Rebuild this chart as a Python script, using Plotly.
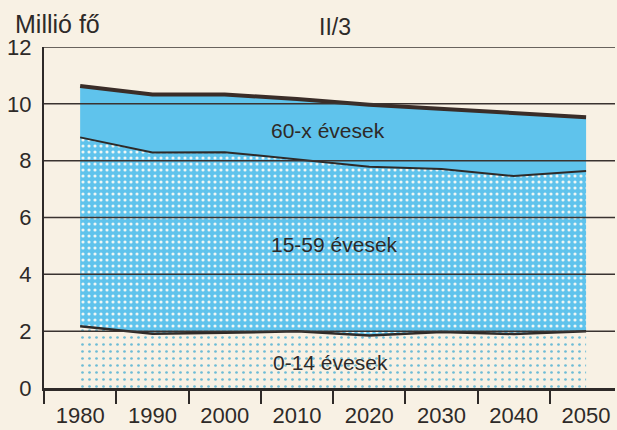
import plotly.graph_objects as go

# Population of Hungary by age group, million persons
years = [1980, 1990, 2000, 2010, 2020, 2030, 2040, 2050]
age_0_14 = [2.17, 1.91, 1.94, 2.00, 1.85, 1.97, 1.90, 2.00]
age_15_59 = [6.65, 6.38, 6.36, 6.05, 5.94, 5.74, 5.56, 5.64]
age_60_plus = [1.81, 2.04, 2.03, 2.12, 2.18, 2.12, 2.22, 1.89]

group_labels = ["0-14 évesek", "15-59 évesek", "60-x évesek"]
y_ticks = [0, 2, 4, 6, 8, 10, 12]
x_tick_marks = [1975, 1985, 1995, 2005, 2015, 2025, 2035, 2045]

BG = "#f8f1e4"
BLUE = "#5fc3ec"
INK = "#2e2a28"
FONT = "Liberation Sans"

fig = go.Figure()

fig.add_trace(go.Scatter(
    x=years, y=age_0_14, stackgroup="pop", name=group_labels[0],
    mode="lines", line=dict(color=INK, width=2.5),
    fillcolor=BG,
    fillpattern=dict(shape=".", bgcolor=BG, fgcolor="#6dbcd6",
                     size=7, solidity=0.12, fillmode="replace"),
))
fig.add_trace(go.Scatter(
    x=years, y=age_15_59, stackgroup="pop", name=group_labels[1],
    mode="lines", line=dict(color=INK, width=2),
    fillcolor=BLUE,
    fillpattern=dict(shape=".", bgcolor=BLUE, fgcolor="#eef6f4",
                     size=6, solidity=0.22, fillmode="replace"),
))
fig.add_trace(go.Scatter(
    x=years, y=age_60_plus, stackgroup="pop", name=group_labels[2],
    mode="lines", line=dict(color="#3a2d28", width=4),
    fillcolor=BLUE,
))

# invisible trace carrying the tick marks placed between the year labels
fig.add_trace(go.Scatter(x=[years[0]], y=[0], xaxis="x2", mode="markers",
                         marker=dict(opacity=0), hoverinfo="skip"))

# horizontal guide lines drawn above the filled areas
for v in y_ticks[1:]:
    fig.add_shape(type="line", xref="paper", x0=0, x1=1, yref="y", y0=v, y1=v,
                  line=dict(color="#3a3330", width=1.5), layer="above")

# group labels inside the bands
fig.add_annotation(x=2014.3, y=9.05, text=group_labels[2], showarrow=False,
                   font=dict(size=21, color=INK, family=FONT))
fig.add_annotation(x=2015.2, y=5.05, text=group_labels[1], showarrow=False,
                   font=dict(size=21, color=INK, family=FONT))
fig.add_annotation(x=2014.6, y=0.9, text=group_labels[0], showarrow=False,
                   font=dict(size=21, color=INK, family=FONT))

fig.add_annotation(xref="paper", yref="paper", x=-0.055, y=1.0, yshift=7,
                   xanchor="left", yanchor="bottom", text="Millió fő",
                   showarrow=False, font=dict(size=25, color=INK, family=FONT))
fig.add_annotation(xref="paper", yref="paper", x=0.51, y=1.0, yshift=5,
                   xanchor="center", yanchor="bottom", text="II/3",
                   showarrow=False, font=dict(size=23, color=INK, family=FONT))

fig.update_layout(
    width=617, height=430,
    margin=dict(l=44, r=2, t=47, b=42),
    paper_bgcolor=BG, plot_bgcolor=BG,
    showlegend=False,
    font=dict(family=FONT, color=INK),
    xaxis=dict(range=[1975, 2054], tickvals=years, ticks="",
               showgrid=False, zeroline=False, showline=True,
               linecolor=INK, linewidth=3, ticklabelstandoff=6,
               automargin=False,
               tickfont=dict(size=22, color=INK, family=FONT)),
    xaxis2=dict(range=[1975, 2054], overlaying="x", anchor="y", side="bottom",
                tickvals=x_tick_marks, ticks="outside", ticklen=15,
                tickwidth=2, tickcolor=INK, showticklabels=False,
                showgrid=False, zeroline=False, automargin=False),
    yaxis=dict(range=[0, 12], tickvals=y_ticks, ticks="", showgrid=False,
               zeroline=False, showline=True, linecolor=INK, linewidth=2,
               ticklabelstandoff=6, automargin=False,
               tickfont=dict(size=22, color=INK, family=FONT)),
)

fig.write_html("out.html")
